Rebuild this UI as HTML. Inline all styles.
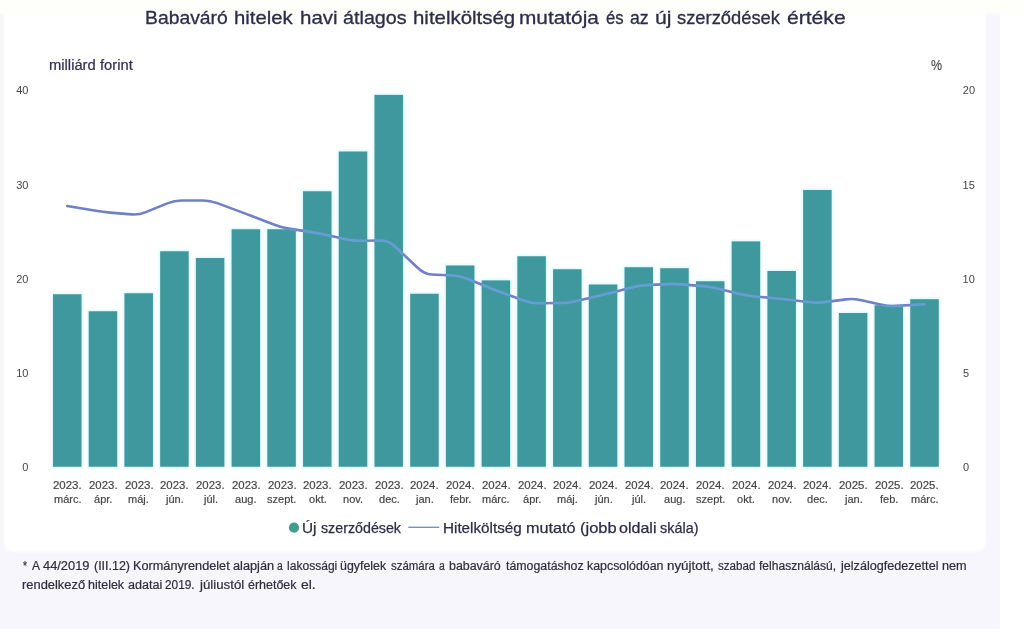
<!DOCTYPE html>
<html lang="hu"><head><meta charset="utf-8"><title>Babaváró hitelek</title>
<style>
html,body{margin:0;padding:0;background:#fff;}
body{width:1024px;height:643px;position:relative;overflow:hidden;font-family:"Liberation Sans",sans-serif;}
#bg{position:absolute;left:0;top:0;width:999.5px;height:628.5px;background:#f8f6fd;}
#card{position:absolute;left:4.5px;top:-20px;width:980px;height:570.5px;background:#fff;border-radius:10px;box-shadow:0 0 3px 1px rgba(255,255,255,.9);}
#ls{position:absolute;left:0;top:0;width:8px;height:545px;background:#f5f5f7;}
#ts{position:absolute;left:0;top:0;width:1024px;height:16px;background:linear-gradient(#fefefb,#fefefb 12px,rgba(254,254,251,0));}
svg{position:absolute;left:0;top:0;filter:blur(.35px);}
.t{position:absolute;left:0;top:0;white-space:nowrap;line-height:1;filter:blur(.4px);}
.t span{position:absolute;top:0;transform-origin:0 0;display:block;}
</style></head><body>
<div id="bg"></div><div id="ls"></div><div id="card"></div><div id="ts"></div>
<svg width="1024" height="643" viewBox="0 0 1024 643">
<defs><clipPath id="bc"><rect x="53.00" y="294.25" width="28.50" height="172.50"/><rect x="88.72" y="311.25" width="28.50" height="155.50"/><rect x="124.44" y="293.25" width="28.50" height="173.50"/><rect x="160.16" y="251.25" width="28.50" height="215.50"/><rect x="195.88" y="258.00" width="28.50" height="208.75"/><rect x="231.60" y="229.25" width="28.50" height="237.50"/><rect x="267.32" y="229.25" width="28.50" height="237.50"/><rect x="303.04" y="191.25" width="28.50" height="275.50"/><rect x="338.76" y="151.50" width="28.50" height="315.25"/><rect x="374.48" y="94.90" width="28.50" height="371.85"/><rect x="410.20" y="293.75" width="28.50" height="173.00"/><rect x="445.92" y="265.50" width="28.50" height="201.25"/><rect x="481.64" y="280.40" width="28.50" height="186.35"/><rect x="517.36" y="256.25" width="28.50" height="210.50"/><rect x="553.08" y="269.25" width="28.50" height="197.50"/><rect x="588.80" y="284.50" width="28.50" height="182.25"/><rect x="624.52" y="267.25" width="28.50" height="199.50"/><rect x="660.24" y="268.25" width="28.50" height="198.50"/><rect x="695.96" y="281.25" width="28.50" height="185.50"/><rect x="731.68" y="241.40" width="28.50" height="225.35"/><rect x="767.40" y="271.00" width="28.50" height="195.75"/><rect x="803.12" y="190.00" width="28.50" height="276.75"/><rect x="838.84" y="313.00" width="28.50" height="153.75"/><rect x="874.56" y="305.20" width="28.50" height="161.55"/><rect x="910.28" y="299.20" width="28.50" height="167.55"/></clipPath><filter id="gl" x="-5%%" y="-5%%" width="110%%" height="110%%"><feGaussianBlur stdDeviation="1.6"/></filter></defs>
<g fill="#7fe6ea" opacity="0.35" filter="url(#gl)"><rect x="52.00" y="293.25" width="30.50" height="174.50"/><rect x="87.72" y="310.25" width="30.50" height="157.50"/><rect x="123.44" y="292.25" width="30.50" height="175.50"/><rect x="159.16" y="250.25" width="30.50" height="217.50"/><rect x="194.88" y="257.00" width="30.50" height="210.75"/><rect x="230.60" y="228.25" width="30.50" height="239.50"/><rect x="266.32" y="228.25" width="30.50" height="239.50"/><rect x="302.04" y="190.25" width="30.50" height="277.50"/><rect x="337.76" y="150.50" width="30.50" height="317.25"/><rect x="373.48" y="93.90" width="30.50" height="373.85"/><rect x="409.20" y="292.75" width="30.50" height="175.00"/><rect x="444.92" y="264.50" width="30.50" height="203.25"/><rect x="480.64" y="279.40" width="30.50" height="188.35"/><rect x="516.36" y="255.25" width="30.50" height="212.50"/><rect x="552.08" y="268.25" width="30.50" height="199.50"/><rect x="587.80" y="283.50" width="30.50" height="184.25"/><rect x="623.52" y="266.25" width="30.50" height="201.50"/><rect x="659.24" y="267.25" width="30.50" height="200.50"/><rect x="694.96" y="280.25" width="30.50" height="187.50"/><rect x="730.68" y="240.40" width="30.50" height="227.35"/><rect x="766.40" y="270.00" width="30.50" height="197.75"/><rect x="802.12" y="189.00" width="30.50" height="278.75"/><rect x="837.84" y="312.00" width="30.50" height="155.75"/><rect x="873.56" y="304.20" width="30.50" height="163.55"/><rect x="909.28" y="298.20" width="30.50" height="169.55"/></g>
<g fill="#3f989d"><rect x="53.00" y="294.25" width="28.50" height="172.50"/><rect x="88.72" y="311.25" width="28.50" height="155.50"/><rect x="124.44" y="293.25" width="28.50" height="173.50"/><rect x="160.16" y="251.25" width="28.50" height="215.50"/><rect x="195.88" y="258.00" width="28.50" height="208.75"/><rect x="231.60" y="229.25" width="28.50" height="237.50"/><rect x="267.32" y="229.25" width="28.50" height="237.50"/><rect x="303.04" y="191.25" width="28.50" height="275.50"/><rect x="338.76" y="151.50" width="28.50" height="315.25"/><rect x="374.48" y="94.90" width="28.50" height="371.85"/><rect x="410.20" y="293.75" width="28.50" height="173.00"/><rect x="445.92" y="265.50" width="28.50" height="201.25"/><rect x="481.64" y="280.40" width="28.50" height="186.35"/><rect x="517.36" y="256.25" width="28.50" height="210.50"/><rect x="553.08" y="269.25" width="28.50" height="197.50"/><rect x="588.80" y="284.50" width="28.50" height="182.25"/><rect x="624.52" y="267.25" width="28.50" height="199.50"/><rect x="660.24" y="268.25" width="28.50" height="198.50"/><rect x="695.96" y="281.25" width="28.50" height="185.50"/><rect x="731.68" y="241.40" width="28.50" height="225.35"/><rect x="767.40" y="271.00" width="28.50" height="195.75"/><rect x="803.12" y="190.00" width="28.50" height="276.75"/><rect x="838.84" y="313.00" width="28.50" height="153.75"/><rect x="874.56" y="305.20" width="28.50" height="161.55"/><rect x="910.28" y="299.20" width="28.50" height="167.55"/></g>
<path d="M67.25,206.00 L95.83,210.80 Q102.97,212.00 110.11,212.60 L131.55,214.40 Q138.69,215.00 145.83,212.10 L167.27,203.40 Q174.41,200.50 181.55,200.50 L202.99,200.50 Q210.13,200.50 217.27,203.15 L238.71,211.10 Q245.85,213.75 252.99,216.50 L274.43,224.75 Q281.57,227.50 288.71,228.60 L310.15,231.90 Q317.29,233.00 324.43,234.55 L345.87,239.20 Q353.01,240.75 360.15,240.70 L381.59,240.55 Q388.73,240.50 395.87,247.25 L417.31,267.50 Q424.45,274.25 431.59,274.55 L453.03,275.45 Q460.17,275.75 467.31,278.70 L488.75,287.55 Q495.89,290.50 503.03,293.05 L524.47,300.70 Q531.61,303.25 538.75,303.20 L560.19,303.05 Q567.33,303.00 574.47,301.40 L595.91,296.60 Q603.05,295.00 610.19,293.10 L631.63,287.40 Q638.77,285.50 645.91,285.15 L667.35,284.10 Q674.49,283.75 681.63,284.35 L703.07,286.15 Q710.21,286.75 717.35,288.50 L738.79,293.75 Q745.93,295.50 753.07,296.20 L774.51,298.30 Q781.65,299.00 788.79,299.80 L810.23,302.20 Q817.37,303.00 824.51,302.10 L845.95,299.40 Q853.09,298.50 860.23,300.05 L881.67,304.70 Q888.81,306.25 895.95,305.85 L924.53,304.25" fill="none" stroke="#6f80c8" stroke-width="2.6" stroke-linejoin="round" stroke-linecap="round"/>
<path d="M67.25,206.00 L95.83,210.80 Q102.97,212.00 110.11,212.60 L131.55,214.40 Q138.69,215.00 145.83,212.10 L167.27,203.40 Q174.41,200.50 181.55,200.50 L202.99,200.50 Q210.13,200.50 217.27,203.15 L238.71,211.10 Q245.85,213.75 252.99,216.50 L274.43,224.75 Q281.57,227.50 288.71,228.60 L310.15,231.90 Q317.29,233.00 324.43,234.55 L345.87,239.20 Q353.01,240.75 360.15,240.70 L381.59,240.55 Q388.73,240.50 395.87,247.25 L417.31,267.50 Q424.45,274.25 431.59,274.55 L453.03,275.45 Q460.17,275.75 467.31,278.70 L488.75,287.55 Q495.89,290.50 503.03,293.05 L524.47,300.70 Q531.61,303.25 538.75,303.20 L560.19,303.05 Q567.33,303.00 574.47,301.40 L595.91,296.60 Q603.05,295.00 610.19,293.10 L631.63,287.40 Q638.77,285.50 645.91,285.15 L667.35,284.10 Q674.49,283.75 681.63,284.35 L703.07,286.15 Q710.21,286.75 717.35,288.50 L738.79,293.75 Q745.93,295.50 753.07,296.20 L774.51,298.30 Q781.65,299.00 788.79,299.80 L810.23,302.20 Q817.37,303.00 824.51,302.10 L845.95,299.40 Q853.09,298.50 860.23,300.05 L881.67,304.70 Q888.81,306.25 895.95,305.85 L924.53,304.25" fill="none" stroke="#62a0d2" stroke-width="2.6" stroke-linejoin="round" stroke-linecap="round" clip-path="url(#bc)"/>
<circle cx="294" cy="527.6" r="5.1" fill="#3f9d8d"/>
<line x1="408.3" y1="527.3" x2="439.3" y2="527.3" stroke="#7790cd" stroke-width="1.4"/>
</svg>
<div class="t title" style="top:8.32px;font-size:19px;color:#2c2d48;-webkit-text-stroke:0.3px #2c2d48;"><span style="left:144.79px;transform:scaleX(1.0180)">Babaváró</span> <span style="left:233.53px;transform:scaleX(1.0698)">hitelek</span> <span style="left:299.62px;transform:scaleX(1.0797)">havi</span> <span style="left:343.28px;transform:scaleX(1.0403)">átlagos</span> <span style="left:413.42px;transform:scaleX(1.0754)">hitelköltség</span> <span style="left:519.30px;transform:scaleX(1.0960)">mutatója</span> <span style="left:605.88px;transform:scaleX(0.8793)">és</span> <span style="left:630.25px;transform:scaleX(0.9310)">az</span> <span style="left:654.67px;transform:scaleX(1.1176)">új</span> <span style="left:676.71px;transform:scaleX(0.9657)">szerződések</span> <span style="left:787.24px;transform:scaleX(1.1100)">értéke</span></div>
<div class="t unit" style="top:57.85px;font-size:14px;color:#2f2d52;-webkit-text-stroke:0.2px #2f2d52;"><span style="left:49.08px;transform:scaleX(1.0544)">milliárd</span> <span style="left:100.00px;transform:scaleX(1.0522)">forint</span></div>
<div class="t unit" style="top:57.88px;font-size:14.2px;color:#4a4a4a;-webkit-text-stroke:0.15px #4a4a4a;"><span style="left:930.51px;transform:scaleX(0.8759)">%</span></div>
<div class="t yl" style="top:85.39px;font-size:11px;color:#454545;"><span style="left:16.24px;transform:scaleX(1.0000)">40</span></div>
<div class="t yl" style="top:180.39px;font-size:11px;color:#454545;"><span style="left:16.24px;transform:scaleX(1.0000)">30</span></div>
<div class="t yl" style="top:274.39px;font-size:11px;color:#454545;"><span style="left:16.24px;transform:scaleX(1.0000)">20</span></div>
<div class="t yl" style="top:368.39px;font-size:11px;color:#454545;"><span style="left:16.24px;transform:scaleX(1.0000)">10</span></div>
<div class="t yl" style="top:462.39px;font-size:11px;color:#454545;"><span style="left:22.36px;transform:scaleX(1.0000)">0</span></div>
<div class="t yr" style="top:85.39px;font-size:11px;color:#454545;"><span style="left:962.78px;transform:scaleX(1.0000)">20</span></div>
<div class="t yr" style="top:180.39px;font-size:11px;color:#454545;"><span style="left:962.61px;transform:scaleX(1.0000)">15</span></div>
<div class="t yr" style="top:274.39px;font-size:11px;color:#454545;"><span style="left:962.61px;transform:scaleX(1.0000)">10</span></div>
<div class="t yr" style="top:368.39px;font-size:11px;color:#454545;"><span style="left:962.96px;transform:scaleX(1.0000)">5</span></div>
<div class="t yr" style="top:462.39px;font-size:11px;color:#454545;"><span style="left:962.96px;transform:scaleX(1.0000)">0</span></div>
<div class="t xl" style="top:479.83px;font-size:11.3px;color:#454545;-webkit-text-stroke:0.2px #454545;"><span style="left:53.21px;transform:scaleX(1.0102)">2023.</span></div>
<div class="t xl" style="top:494.23px;font-size:11.3px;color:#454545;-webkit-text-stroke:0.2px #454545;"><span style="left:53.63px;transform:scaleX(0.9750)">márc.</span></div>
<div class="t xl" style="top:479.83px;font-size:11.3px;color:#454545;-webkit-text-stroke:0.2px #454545;"><span style="left:88.93px;transform:scaleX(1.0102)">2023.</span></div>
<div class="t xl" style="top:494.23px;font-size:11.3px;color:#454545;-webkit-text-stroke:0.2px #454545;"><span style="left:94.11px;transform:scaleX(0.9750)">ápr.</span></div>
<div class="t xl" style="top:479.83px;font-size:11.3px;color:#454545;-webkit-text-stroke:0.2px #454545;"><span style="left:124.65px;transform:scaleX(1.0102)">2023.</span></div>
<div class="t xl" style="top:494.23px;font-size:11.3px;color:#454545;-webkit-text-stroke:0.2px #454545;"><span style="left:128.44px;transform:scaleX(0.9750)">máj.</span></div>
<div class="t xl" style="top:479.83px;font-size:11.3px;color:#454545;-webkit-text-stroke:0.2px #454545;"><span style="left:160.37px;transform:scaleX(1.0102)">2023.</span></div>
<div class="t xl" style="top:494.23px;font-size:11.3px;color:#454545;-webkit-text-stroke:0.2px #454545;"><span style="left:166.20px;transform:scaleX(0.9750)">jún.</span></div>
<div class="t xl" style="top:479.83px;font-size:11.3px;color:#454545;-webkit-text-stroke:0.2px #454545;"><span style="left:196.09px;transform:scaleX(1.0102)">2023.</span></div>
<div class="t xl" style="top:494.23px;font-size:11.3px;color:#454545;-webkit-text-stroke:0.2px #454545;"><span style="left:203.76px;transform:scaleX(0.9750)">júl.</span></div>
<div class="t xl" style="top:479.83px;font-size:11.3px;color:#454545;-webkit-text-stroke:0.2px #454545;"><span style="left:231.81px;transform:scaleX(1.0102)">2023.</span></div>
<div class="t xl" style="top:494.23px;font-size:11.3px;color:#454545;-webkit-text-stroke:0.2px #454545;"><span style="left:235.45px;transform:scaleX(0.9750)">aug.</span></div>
<div class="t xl" style="top:479.83px;font-size:11.3px;color:#454545;-webkit-text-stroke:0.2px #454545;"><span style="left:267.53px;transform:scaleX(1.0102)">2023.</span></div>
<div class="t xl" style="top:494.23px;font-size:11.3px;color:#454545;-webkit-text-stroke:0.2px #454545;"><span style="left:267.28px;transform:scaleX(0.9750)">szept.</span></div>
<div class="t xl" style="top:479.83px;font-size:11.3px;color:#454545;-webkit-text-stroke:0.2px #454545;"><span style="left:303.25px;transform:scaleX(1.0102)">2023.</span></div>
<div class="t xl" style="top:494.23px;font-size:11.3px;color:#454545;-webkit-text-stroke:0.2px #454545;"><span style="left:308.74px;transform:scaleX(0.9750)">okt.</span></div>
<div class="t xl" style="top:479.83px;font-size:11.3px;color:#454545;-webkit-text-stroke:0.2px #454545;"><span style="left:338.97px;transform:scaleX(1.0102)">2023.</span></div>
<div class="t xl" style="top:494.23px;font-size:11.3px;color:#454545;-webkit-text-stroke:0.2px #454545;"><span style="left:343.16px;transform:scaleX(0.9750)">nov.</span></div>
<div class="t xl" style="top:479.83px;font-size:11.3px;color:#454545;-webkit-text-stroke:0.2px #454545;"><span style="left:374.69px;transform:scaleX(1.0102)">2023.</span></div>
<div class="t xl" style="top:494.23px;font-size:11.3px;color:#454545;-webkit-text-stroke:0.2px #454545;"><span style="left:378.64px;transform:scaleX(0.9750)">dec.</span></div>
<div class="t xl" style="top:479.83px;font-size:11.3px;color:#454545;-webkit-text-stroke:0.2px #454545;"><span style="left:410.41px;transform:scaleX(1.0102)">2024.</span></div>
<div class="t xl" style="top:494.23px;font-size:11.3px;color:#454545;-webkit-text-stroke:0.2px #454545;"><span style="left:416.24px;transform:scaleX(0.9750)">jan.</span></div>
<div class="t xl" style="top:479.83px;font-size:11.3px;color:#454545;-webkit-text-stroke:0.2px #454545;"><span style="left:446.13px;transform:scaleX(1.0102)">2024.</span></div>
<div class="t xl" style="top:494.23px;font-size:11.3px;color:#454545;-webkit-text-stroke:0.2px #454545;"><span style="left:449.95px;transform:scaleX(0.9750)">febr.</span></div>
<div class="t xl" style="top:479.83px;font-size:11.3px;color:#454545;-webkit-text-stroke:0.2px #454545;"><span style="left:481.85px;transform:scaleX(1.0102)">2024.</span></div>
<div class="t xl" style="top:494.23px;font-size:11.3px;color:#454545;-webkit-text-stroke:0.2px #454545;"><span style="left:482.27px;transform:scaleX(0.9750)">márc.</span></div>
<div class="t xl" style="top:479.83px;font-size:11.3px;color:#454545;-webkit-text-stroke:0.2px #454545;"><span style="left:517.57px;transform:scaleX(1.0102)">2024.</span></div>
<div class="t xl" style="top:494.23px;font-size:11.3px;color:#454545;-webkit-text-stroke:0.2px #454545;"><span style="left:522.75px;transform:scaleX(0.9750)">ápr.</span></div>
<div class="t xl" style="top:479.83px;font-size:11.3px;color:#454545;-webkit-text-stroke:0.2px #454545;"><span style="left:553.29px;transform:scaleX(1.0102)">2024.</span></div>
<div class="t xl" style="top:494.23px;font-size:11.3px;color:#454545;-webkit-text-stroke:0.2px #454545;"><span style="left:557.08px;transform:scaleX(0.9750)">máj.</span></div>
<div class="t xl" style="top:479.83px;font-size:11.3px;color:#454545;-webkit-text-stroke:0.2px #454545;"><span style="left:589.01px;transform:scaleX(1.0102)">2024.</span></div>
<div class="t xl" style="top:494.23px;font-size:11.3px;color:#454545;-webkit-text-stroke:0.2px #454545;"><span style="left:594.84px;transform:scaleX(0.9750)">jún.</span></div>
<div class="t xl" style="top:479.83px;font-size:11.3px;color:#454545;-webkit-text-stroke:0.2px #454545;"><span style="left:624.73px;transform:scaleX(1.0102)">2024.</span></div>
<div class="t xl" style="top:494.23px;font-size:11.3px;color:#454545;-webkit-text-stroke:0.2px #454545;"><span style="left:632.40px;transform:scaleX(0.9750)">júl.</span></div>
<div class="t xl" style="top:479.83px;font-size:11.3px;color:#454545;-webkit-text-stroke:0.2px #454545;"><span style="left:660.45px;transform:scaleX(1.0102)">2024.</span></div>
<div class="t xl" style="top:494.23px;font-size:11.3px;color:#454545;-webkit-text-stroke:0.2px #454545;"><span style="left:664.09px;transform:scaleX(0.9750)">aug.</span></div>
<div class="t xl" style="top:479.83px;font-size:11.3px;color:#454545;-webkit-text-stroke:0.2px #454545;"><span style="left:696.17px;transform:scaleX(1.0102)">2024.</span></div>
<div class="t xl" style="top:494.23px;font-size:11.3px;color:#454545;-webkit-text-stroke:0.2px #454545;"><span style="left:695.92px;transform:scaleX(0.9750)">szept.</span></div>
<div class="t xl" style="top:479.83px;font-size:11.3px;color:#454545;-webkit-text-stroke:0.2px #454545;"><span style="left:731.89px;transform:scaleX(1.0102)">2024.</span></div>
<div class="t xl" style="top:494.23px;font-size:11.3px;color:#454545;-webkit-text-stroke:0.2px #454545;"><span style="left:737.38px;transform:scaleX(0.9750)">okt.</span></div>
<div class="t xl" style="top:479.83px;font-size:11.3px;color:#454545;-webkit-text-stroke:0.2px #454545;"><span style="left:767.61px;transform:scaleX(1.0102)">2024.</span></div>
<div class="t xl" style="top:494.23px;font-size:11.3px;color:#454545;-webkit-text-stroke:0.2px #454545;"><span style="left:771.80px;transform:scaleX(0.9750)">nov.</span></div>
<div class="t xl" style="top:479.83px;font-size:11.3px;color:#454545;-webkit-text-stroke:0.2px #454545;"><span style="left:803.33px;transform:scaleX(1.0102)">2024.</span></div>
<div class="t xl" style="top:494.23px;font-size:11.3px;color:#454545;-webkit-text-stroke:0.2px #454545;"><span style="left:807.28px;transform:scaleX(0.9750)">dec.</span></div>
<div class="t xl" style="top:479.83px;font-size:11.3px;color:#454545;-webkit-text-stroke:0.2px #454545;"><span style="left:839.05px;transform:scaleX(1.0102)">2025.</span></div>
<div class="t xl" style="top:494.23px;font-size:11.3px;color:#454545;-webkit-text-stroke:0.2px #454545;"><span style="left:844.88px;transform:scaleX(0.9750)">jan.</span></div>
<div class="t xl" style="top:479.83px;font-size:11.3px;color:#454545;-webkit-text-stroke:0.2px #454545;"><span style="left:874.77px;transform:scaleX(1.0102)">2025.</span></div>
<div class="t xl" style="top:494.23px;font-size:11.3px;color:#454545;-webkit-text-stroke:0.2px #454545;"><span style="left:880.12px;transform:scaleX(0.9750)">feb.</span></div>
<div class="t xl" style="top:479.83px;font-size:11.3px;color:#454545;-webkit-text-stroke:0.2px #454545;"><span style="left:910.49px;transform:scaleX(1.0102)">2025.</span></div>
<div class="t xl" style="top:494.23px;font-size:11.3px;color:#454545;-webkit-text-stroke:0.2px #454545;"><span style="left:910.91px;transform:scaleX(0.9750)">márc.</span></div>
<div class="t leg" style="top:521.16px;font-size:14.1px;color:#2c2d48;-webkit-text-stroke:0.25px #2c2d48;"><span style="left:301.54px;transform:scaleX(1.0865)">Új</span> <span style="left:320.53px;transform:scaleX(1.0107)">szerződések</span></div>
<div class="t leg" style="top:521.16px;font-size:14.1px;color:#2c2d48;-webkit-text-stroke:0.25px #2c2d48;"><span style="left:443.06px;transform:scaleX(1.0812)">Hitelköltség</span> <span style="left:525.98px;transform:scaleX(1.1524)">mutató</span> <span style="left:579.53px;transform:scaleX(1.1686)">(jobb</span> <span style="left:618.90px;transform:scaleX(1.1378)">oldali</span> <span style="left:659.77px;transform:scaleX(1.0229)">skála)</span></div>
<div class="t foot" style="top:559.94px;font-size:12px;color:#2e2e3c;-webkit-text-stroke:0.2px #2e2e3c;"><span style="left:23.36px;transform:scaleX(0.8600)">*</span> <span style="left:32.00px;transform:scaleX(0.9922)">A</span> <span style="left:42.80px;transform:scaleX(1.0714)">44/2019</span> <span style="left:93.92px;transform:scaleX(1.0376)">(III.12)</span> <span style="left:132.76px;transform:scaleX(1.0582)">Kormányrendelet</span> <span style="left:233.10px;transform:scaleX(1.0624)">alapján</span> <span style="left:276.94px;transform:scaleX(0.8600)">a</span> <span style="left:286.50px;transform:scaleX(1.0054)">lakossági</span> <span style="left:339.73px;transform:scaleX(1.0310)">ügyfelek</span> <span style="left:390.82px;transform:scaleX(0.9531)">számára</span> <span style="left:439.19px;transform:scaleX(0.8600)">a</span> <span style="left:448.72px;transform:scaleX(1.0348)">babaváró</span> <span style="left:505.50px;transform:scaleX(1.0292)">támogatáshoz</span> <span style="left:586.73px;transform:scaleX(1.0326)">kapcsolódóan</span> <span style="left:666.66px;transform:scaleX(1.1145)">nyújtott,</span> <span style="left:717.82px;transform:scaleX(0.9647)">szabad</span> <span style="left:759.25px;transform:scaleX(1.0057)">felhasználású,</span> <span style="left:841.39px;transform:scaleX(1.0508)">jelzálogfedezettel</span> <span style="left:942.21px;transform:scaleX(1.0581)">nem</span></div>
<div class="t foot" style="top:578.64px;font-size:12px;color:#2e2e3c;-webkit-text-stroke:0.2px #2e2e3c;"><span style="left:22.19px;transform:scaleX(1.0753)">rendelkező</span> <span style="left:87.97px;transform:scaleX(1.0403)">hitelek</span> <span style="left:127.86px;transform:scaleX(1.0466)">adatai</span> <span style="left:165.20px;transform:scaleX(0.9865)">2019.</span> <span style="left:200.41px;transform:scaleX(1.1047)">júliustól</span> <span style="left:248.01px;transform:scaleX(1.0395)">érhetőek</span> <span style="left:301.32px;transform:scaleX(1.1592)">el.</span></div>
</body></html>
